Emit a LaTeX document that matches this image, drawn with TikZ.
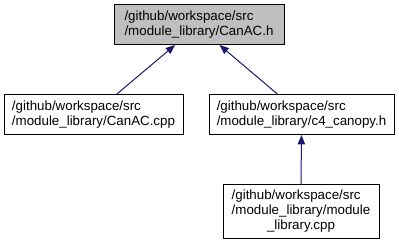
\documentclass[tikz,border=0pt]{standalone}
\usepackage{fontspec}
\setmainfont{Liberation Sans}
\usetikzlibrary{arrows.meta, calc}
\definecolor{edgeblue}{HTML}{191970}
\definecolor{focusgray}{HTML}{BFBFBF}

\begin{document}
\begin{tikzpicture}[x=0.75pt, y=-0.75pt,
  file/.style={draw, line width=0.75pt, align=left, inner sep=0pt, font=\fontsize{10}{11.25}\selectfont},
  incl/.style={draw=edgeblue, line width=0.75pt, {Triangle[length=7pt,width=5.5pt]}-}]
\useasboundingbox (0,0) rectangle (399,245);
\node[file, fill=focusgray, minimum width=127.5pt, minimum height=30pt] (canac_h) at (199,24.5) {/github/workspace/src\\/module\_library/CanAC.h};
\node[file, minimum width=134.25pt, minimum height=30pt] (canac_cpp) at (93.5,114.5) {/github/workspace/src\\/module\_library/CanAC.cpp};
\node[file, minimum width=138.75pt, minimum height=30pt] (canopy_h) at (301.5,114.5) {/github/workspace/src\\/module\_library/c4\_canopy.h};
\node[file, minimum width=117pt, minimum height=40.5pt] (module_cpp) at (301,212) {\begin{tabular}{@{}l@{}}/github/workspace/src\\/module\_library/module\\\multicolumn{1}{@{}c@{}}{\_library.cpp}\end{tabular}};
\draw[incl] ($(canac_h.south west)!0.36!(canac_h.south east)$) -- ($(canac_cpp.north west)!0.63!(canac_cpp.north east)$);
\draw[incl] ($(canac_h.south west)!0.62!(canac_h.south east)$) -- ($(canopy_h.north west)!0.37!(canopy_h.north east)$);
\draw[incl] (canopy_h.south) -- (module_cpp.north);
\end{tikzpicture}
\end{document}
